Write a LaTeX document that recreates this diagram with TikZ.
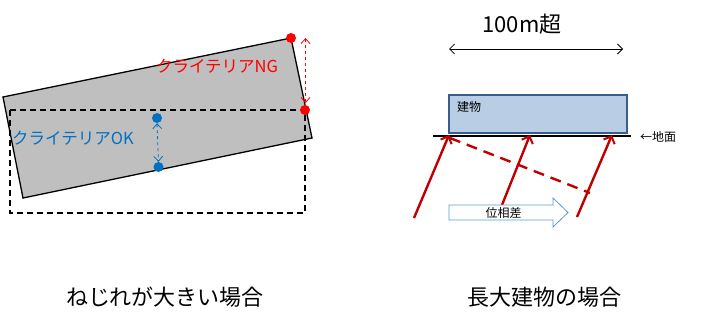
\documentclass[tikz,border=0pt]{standalone}
\usepackage{fontspec}
\setmainfont{Noto Sans CJK JP}
\usetikzlibrary{arrows.meta}
\definecolor{ngred}{HTML}{FF0000}
\definecolor{okblue}{HTML}{0070C0}
\definecolor{grayfill}{HTML}{BFBFBF}
\definecolor{bldfill}{HTML}{B9CDE5}
\definecolor{bldline}{HTML}{385D8A}
\definecolor{wavered}{HTML}{C00000}
\definecolor{phaseblue}{HTML}{5B9BD5}
\tikzset{
  x=1pt,y=-1pt,
  dot/.style={circle,inner sep=0pt,minimum size=10pt},
  wave/.style={wavered,line width=2.4pt,-{Straight Barb[length=6pt,width=12pt,line width=2pt]}},
  lbl/.style={inner sep=0pt,font=\fontsize{16.5}{18}\selectfont},
  small/.style={inner sep=0pt,font=\fontsize{12}{14}\selectfont},
  big/.style={inner sep=0pt,font=\fontsize{22}{24}\selectfont}
}
\begin{document}
\begin{tikzpicture}
\useasboundingbox (0,0) rectangle (705,324);
% left figure
\draw[fill=grayfill,line width=1.3pt] (3,97) -- (291,38) -- (312,138) -- (23,198) -- cycle;
\draw[line width=1.3pt,dash pattern=on 6pt off 4pt] (10,110) rectangle (305,213);
\node[dot,fill=ngred] (ngtop) at (291,38) {};
\node[dot,fill=ngred] (ngbot) at (305,110) {};
\coordinate (ngA) at (305.5,38);
\coordinate (ngB) at (305.5,103);
\draw[ngred,dashed,line width=0.8pt,{Straight Barb[length=5pt,width=9pt]}-{Straight Barb[length=5pt,width=9pt]}] (ngA) -- (ngB);
\node[dot,fill=okblue] (oktop) at (157,118) {};
\node[dot,fill=okblue] (okbot) at (158.5,167) {};
\draw[okblue,dashed,line width=0.8pt,{Straight Barb[length=5pt,width=9pt]}-{Straight Barb[length=5pt,width=9pt]}] (oktop.south) -- (okbot.north);
\node[lbl,text=ngred] (ng) at (217,66) {クライテリアNG};
\node[lbl,text=okblue] (ok) at (73,138) {クライテリアOK};
% right figure
\node[big] (len) at (522,24) {100m超};
\coordinate (la) at (449,49);
\coordinate (lb) at (623,49);
\draw[line width=0.8pt,{Straight Barb[length=5pt,width=10pt]}-{Straight Barb[length=5pt,width=10pt]}] (la) -- (lb);
\draw[fill=bldfill,draw=bldline,line width=2pt] (449,95) rectangle (627,133);
\node[small,anchor=west] (bld) at (457,107) {建物};
\coordinate (g1) at (433,136);
\coordinate (g2) at (631,136);
\draw[line width=2.5pt] (g1) -- (g2);
\node[small,anchor=west] (ground) at (640,137) {←地面};
\coordinate (d1) at (450,138);
\coordinate (d2) at (590,193);
\draw[wavered,line width=2.4pt,dash pattern=on 11pt off 7pt] (d1) -- (d2);
\coordinate (w1s) at (414,218); \coordinate (w1e) at (449,135);
\coordinate (w2s) at (502,205); \coordinate (w2e) at (530,135);
\coordinate (w3s) at (577,217); \coordinate (w3e) at (612,135);
\draw[wave] (w1s) -- (w1e);
\draw[wave] (w2s) -- (w2e);
\draw[wave] (w3s) -- (w3e);
\draw[draw=phaseblue,fill=white,line width=0.8pt,line join=miter] (449,205) -- (553,205) -- (553,198) -- (568,212.5) -- (553,227) -- (553,220) -- (449,220) -- cycle;
\node[small] (phlbl) at (503.5,213) {位相差};
% captions
\node[big] (cap1) at (165,297) {ねじれが大きい場合};
\node[big] (cap2) at (544,297) {長大建物の場合};
\end{tikzpicture}
\end{document}
